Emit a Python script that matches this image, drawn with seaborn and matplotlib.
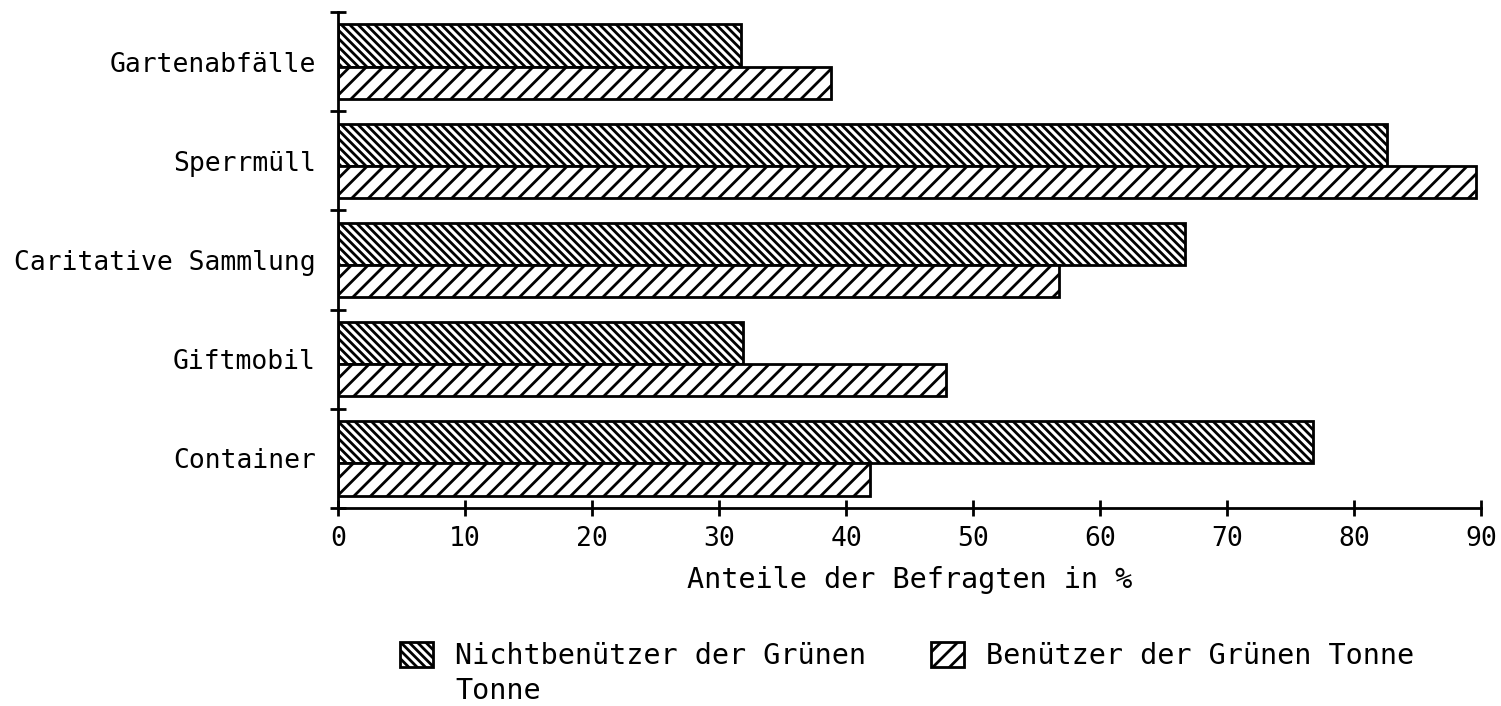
import numpy as np
import pandas as pd
import matplotlib
matplotlib.use("Agg")
import matplotlib.pyplot as plt
import matplotlib.patches as mpatches
import seaborn as sns

# ---- data ----
categories = ["Gartenabfälle", "Sperrmüll", "Caritative Sammlung", "Giftmobil", "Container"]
nichtbenutzer = [31.7, 82.6, 66.7, 31.9, 76.8]
benutzer = [38.8, 89.6, 56.8, 47.9, 41.9]
series_labels = ["Nichtbenützer der Grünen Tonne", "Benützer der Grünen Tonne"]
x_ticks = [0, 10, 20, 30, 40, 50, 60, 70, 80, 90]
x_label = "Anteile der Befragten in %"

sns.set_style("ticks")
plt.rcParams["font.family"] = ["DejaVu Sans Mono", "DejaVu Sans"]
plt.rcParams["hatch.linewidth"] = 2.0
plt.rcParams["text.color"] = "black"
plt.rcParams["axes.labelcolor"] = "black"

df = pd.DataFrame({
    "Kategorie": categories * 2,
    "Wert": nichtbenutzer + benutzer,
    "Gruppe": [series_labels[0]] * len(categories) + [series_labels[1]] * len(categories),
})

fig = plt.figure(figsize=(15.01, 7.06), dpi=100)
ax = fig.add_axes([0.2252, 0.2805, 0.7615, 0.7025])

sns.barplot(data=df, x="Wert", y="Kategorie", hue="Gruppe", order=categories,
            hue_order=series_labels, palette=["white", "white"], saturation=1,
            orient="h", width=0.75, edgecolor="black", linewidth=2,
            errorbar=None, legend=False, ax=ax)

hatches = ["\\\\\\\\", "//"]
for cont, h in zip(ax.containers, hatches):
    for p in cont:
        p.set_hatch(h)
# upper bars slightly taller than the lower ones, as in the original
for p in ax.containers[0]:
    p.set_height(p.get_height() + 0.05)
for p in ax.containers[1]:
    p.set_y(p.get_y() + 0.05)
    p.set_height(p.get_height() - 0.05)

ax.set_xlim(0, 90)
ax.set_ylim(len(categories) - 0.5, -0.5)
ax.set_xticks(x_ticks)
ax.set_yticks(np.arange(-0.5, len(categories), 1.0), minor=True)
ax.tick_params(axis="y", which="major", length=0, pad=16, labelsize=19, labelcolor="black")
ax.tick_params(axis="y", which="minor", direction="inout", length=11.5, width=2, color="black")
ax.tick_params(axis="x", which="major", direction="inout", length=11.5, width=2, pad=7,
               labelsize=19, color="black", labelcolor="black")
ax.tick_params(axis="x", which="minor", length=0)
ax.set_xlabel(x_label, fontsize=20.5, labelpad=10, color="black")
ax.set_ylabel("")
for s in ["top", "right"]:
    ax.spines[s].set_visible(False)
for s in ["left", "bottom"]:
    ax.spines[s].set_linewidth(2)
    ax.spines[s].set_color("black")

first_line, second_line = series_labels[0].rsplit(" ", 1)
blank = mpatches.Patch(facecolor="none", edgecolor="none")
fig.legend([ax.containers[0], blank, ax.containers[1]],
           [first_line, second_line, series_labels[1]],
           loc="upper left", bbox_to_anchor=(400 / 1501, 1 - 642 / 706), ncol=2,
           frameon=False, fontsize=20.5, handlelength=1.16, handleheight=1.0,
           handletextpad=0.77, columnspacing=2.3, labelspacing=0.22,
           borderpad=0, borderaxespad=0)

fig.savefig("out.png", dpi=100)
